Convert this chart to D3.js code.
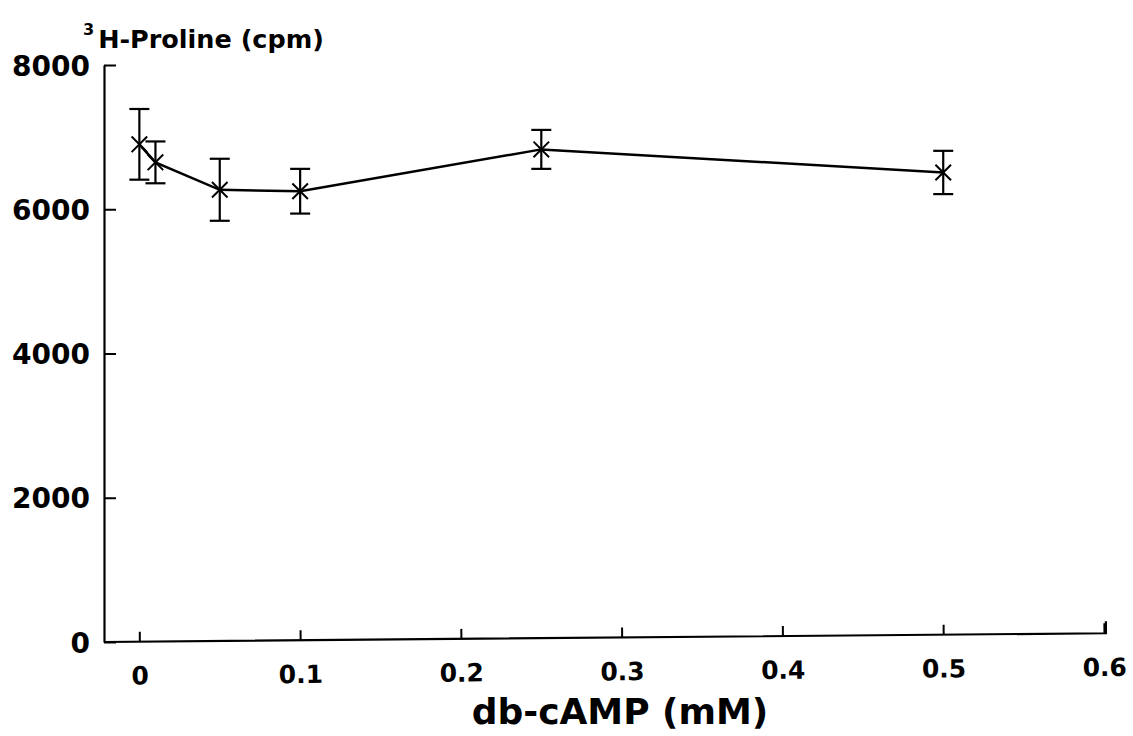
<!DOCTYPE html>
<html>
<head>
<meta charset="utf-8">
<script src="https://cdn.jsdelivr.net/npm/d3@7"></script>
<style>
  html, body { margin: 0; padding: 0; background: #fff; }
  svg { display: block; }
  text { font-family: "DejaVu Sans", sans-serif; font-weight: bold; fill: #000; }
</style>
</head>
<body>
<svg id="chart" width="1133" height="736"></svg>
<script>
// ---- data ----
const doses = [0, 0.01, 0.05, 0.1, 0.25, 0.5];          // db-cAMP (mM)
const prolineCpm = [6900, 6650, 6270, 6250, 6830, 6510]; // mean 3H-Proline (cpm)
const errorCpm = [490, 290, 430, 310, 270, 300];         // error bar half-length
const xTicks = [0, 0.1, 0.2, 0.3, 0.4, 0.5, 0.6];
const xTickLabels = ["0", "0.1", "0.2", "0.3", "0.4", "0.5", "0.6"];
const yTicks = [0, 2000, 4000, 6000, 8000];
const yTickLabels = ["0", "2000", "4000", "6000", "8000"];
const yTitle = "H-Proline (cpm)";
const yTitleSup = "3";
const xTitle = "db-cAMP (mM)";

// ---- chart ----
const svg = d3.select("#chart");
const x = d3.scaleLinear().domain([-0.022, 0.6]).range([104, 1104]);
const y = d3.scaleLinear().domain([0, 8000]).range([642, 65]);

// y axis
const yAxis = d3.axisLeft(y)
  .tickValues(yTicks)
  .tickFormat((d, i) => yTickLabels[i])
  .tickSizeInner(-12).tickSizeOuter(0).tickPadding(14);
const gy = svg.append("g").attr("transform", `translate(${x.range()[0]},0)`).call(yAxis);
gy.select(".domain").attr("stroke", "#000").attr("stroke-width", 2.2);
gy.selectAll(".tick line").attr("stroke", "#000").attr("stroke-width", 2);
gy.selectAll(".tick text").style("font-size", "28px").attr("dy", "0.36em");

// x axis (slightly tilted like the original plot)
const xAxis = d3.axisBottom(x)
  .tickValues(xTicks)
  .tickFormat((d, i) => xTickLabels[i])
  .tickSizeInner(-10).tickSizeOuter(0).tickPadding(25);
const gx = svg.append("g")
  .attr("transform", `rotate(-0.5, ${x.range()[0]}, ${y(0)}) translate(0,${y(0)})`)
  .call(xAxis);
gx.select(".domain").attr("stroke", "#000").attr("stroke-width", 2.2)
  .attr("d", `M${x.range()[0]},0H${x.range()[1] + 2}V-12`);
gx.selectAll(".tick line").attr("stroke", "#000").attr("stroke-width", 2);
gx.selectAll(".tick text").style("font-size", "25px");

// titles
const yt = svg.append("text").attr("x", 83).attr("y", 48).style("font-size", "25.5px");
yt.append("tspan").text(yTitleSup).style("font-size", "16px").attr("dy", "-13");
yt.append("tspan").text(yTitle).attr("dx", "4").attr("dy", "13");

svg.append("text")
  .attr("x", 620).attr("y", 724)
  .attr("text-anchor", "middle")
  .style("font-size", "36px")
  .text(xTitle);

// data line
const pts = doses.map((d, i) => ({ x: d, y: prolineCpm[i], e: errorCpm[i] }));
svg.append("path")
  .datum(pts)
  .attr("fill", "none").attr("stroke", "#000").attr("stroke-width", 2.5)
  .attr("d", d3.line().x(d => x(d.x)).y(d => y(d.y)));

// error bars
const eb = svg.append("g").attr("stroke", "#000").attr("stroke-width", 2.2);
pts.forEach(p => {
  const cx = x(p.x), top = y(p.y + p.e), bot = y(p.y - p.e);
  eb.append("line").attr("x1", cx).attr("x2", cx).attr("y1", top).attr("y2", bot);
  eb.append("line").attr("x1", cx - 10).attr("x2", cx + 10).attr("y1", top).attr("y2", top);
  eb.append("line").attr("x1", cx - 10).attr("x2", cx + 10).attr("y1", bot).attr("y2", bot);
});

// markers (x-shaped)
svg.append("g").selectAll("path")
  .data(pts).join("path")
  .attr("transform", d => `translate(${x(d.x)},${y(d.y)})`)
  .attr("d", d3.symbol(d3.symbolTimes, 160))
  .attr("fill", "none").attr("stroke", "#000").attr("stroke-width", 2);
</script>
</body>
</html>
